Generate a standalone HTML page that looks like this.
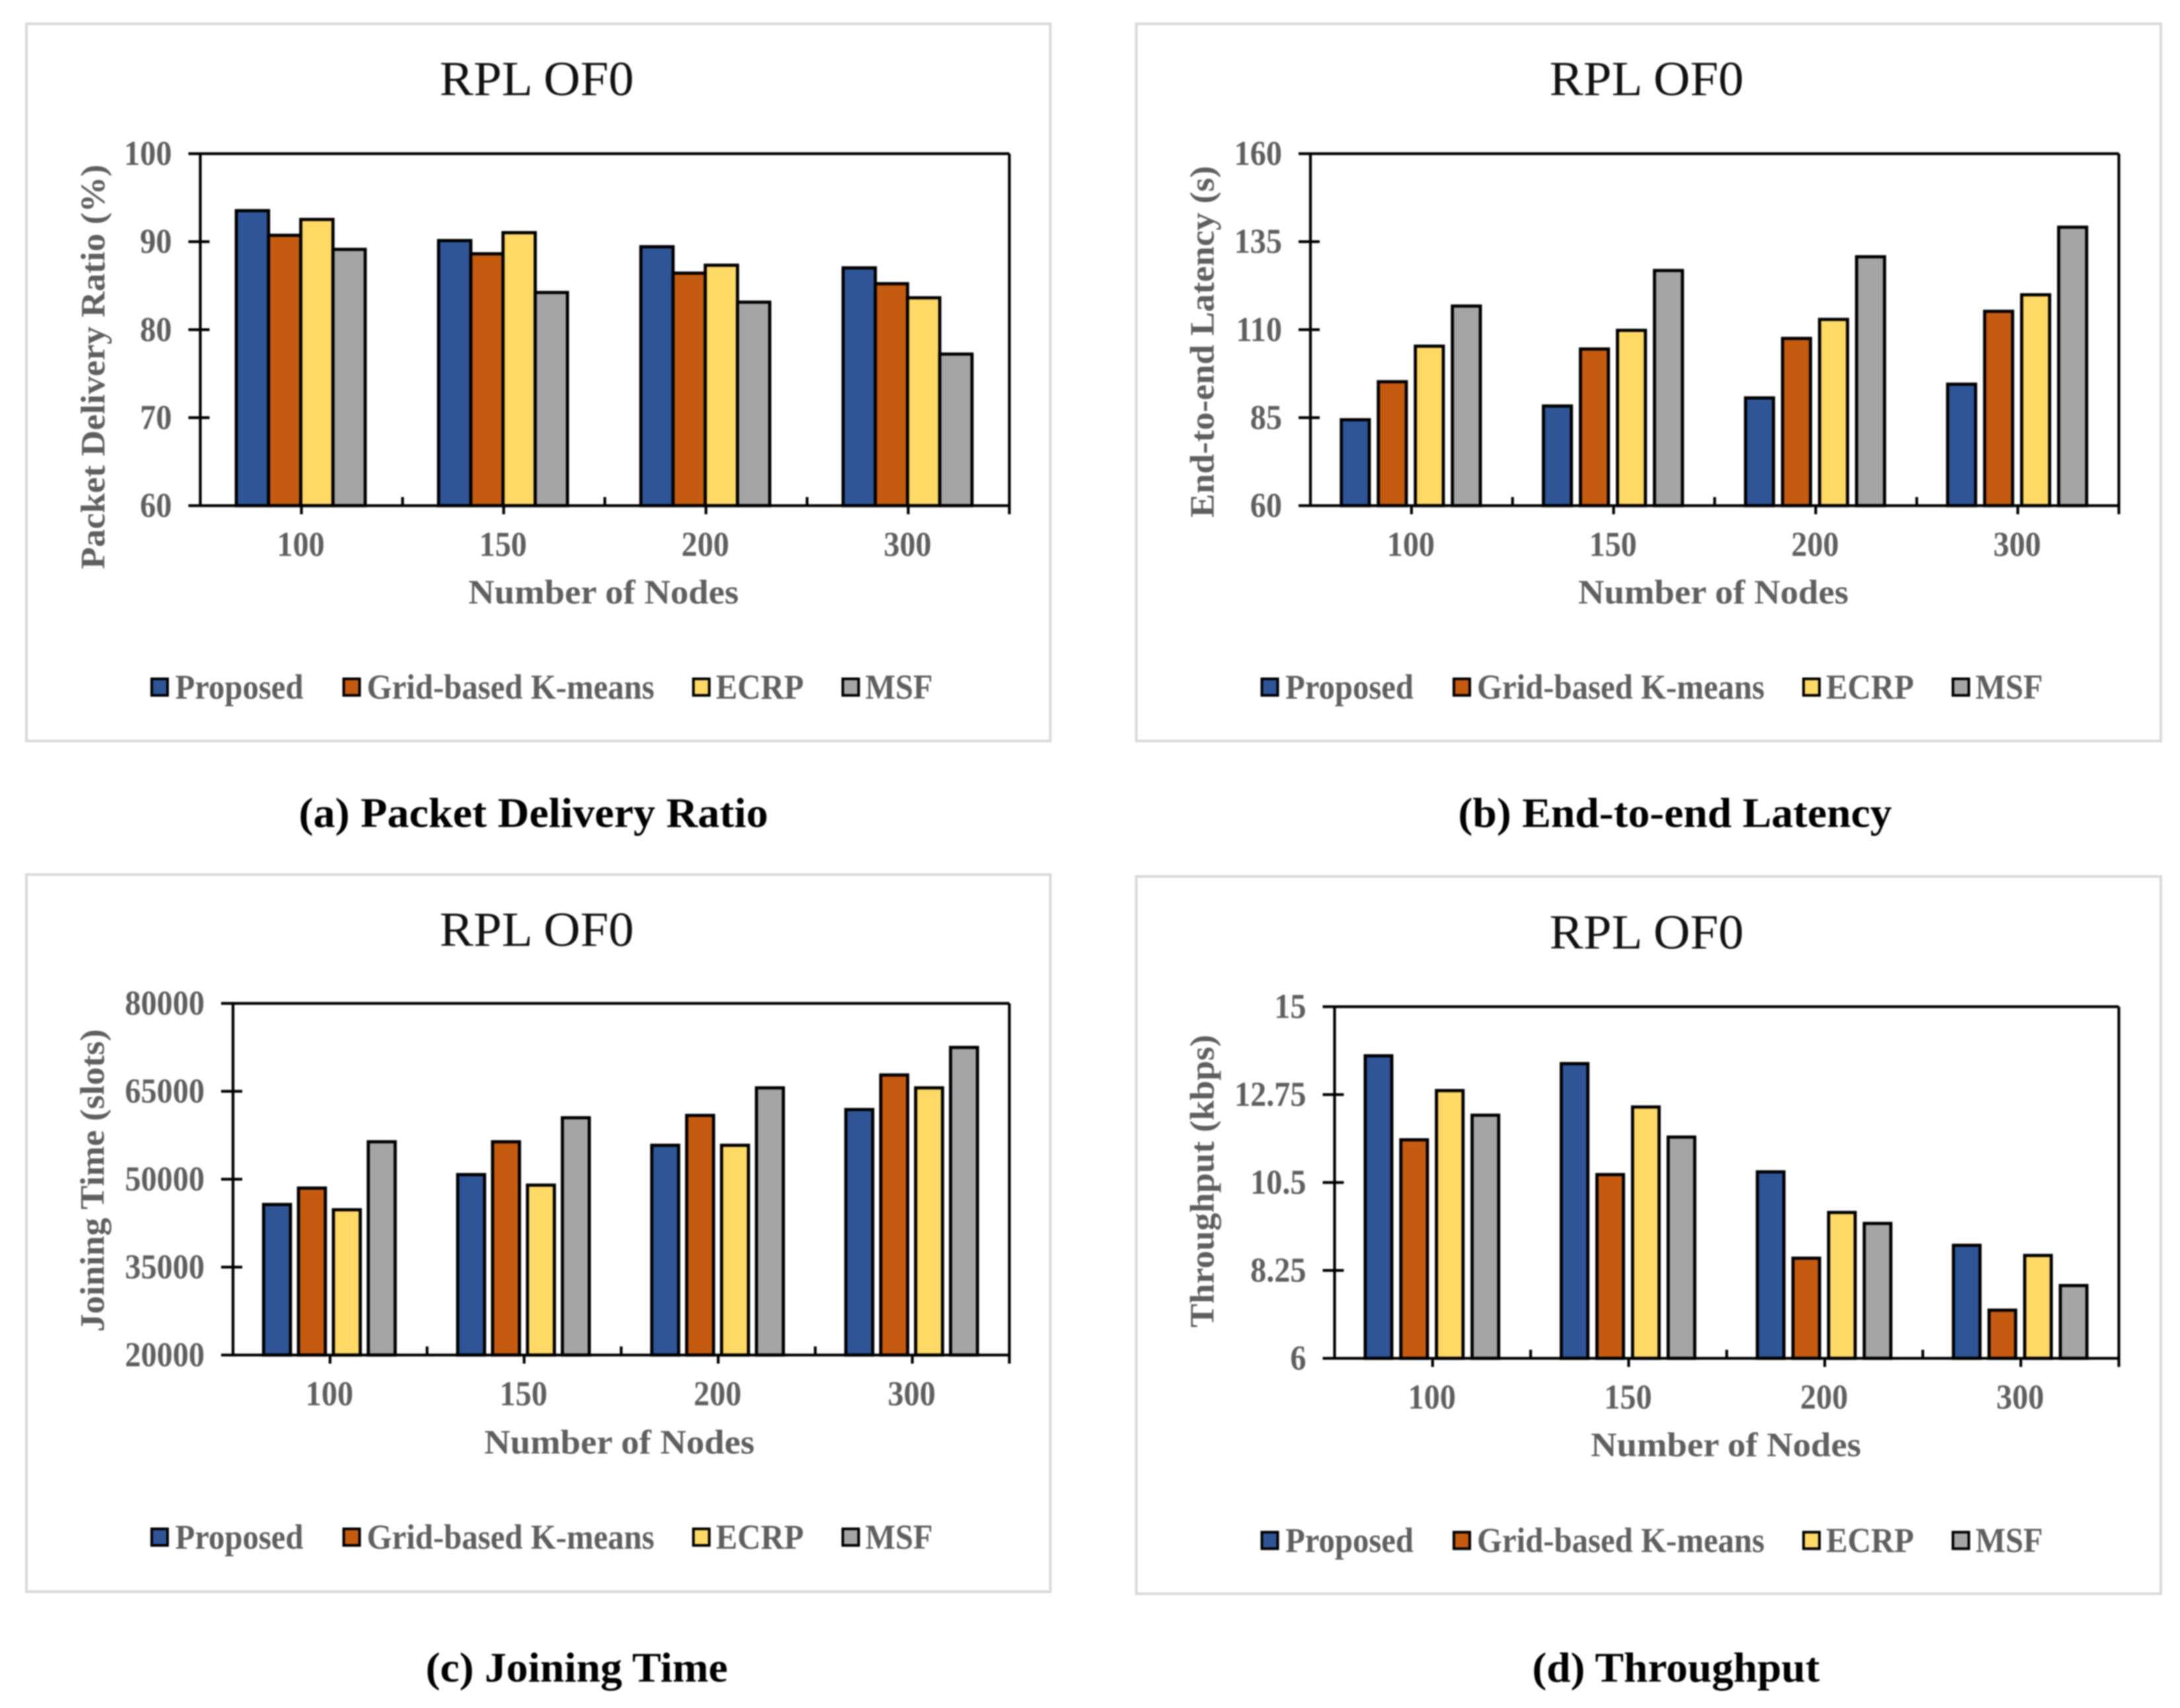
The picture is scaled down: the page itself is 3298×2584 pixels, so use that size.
<!DOCTYPE html>
<html lang="en">
<head>
<meta charset="utf-8">
<title>RPL OF0 comparison charts</title>
<style>
  html, body { margin: 0; padding: 0; background: #fff; }
  svg { display: block; filter: blur(1.1px); }
  text { font-family: "Liberation Serif", serif; }
  .title { font-size: 74px; fill: #111; }
  .axis-title { font-size: 52px; font-weight: bold; fill: #5f5f5f; }
  .tick { font-size: 53px; font-weight: bold; fill: #5f5f5f; }
  .legend-text { font-size: 53px; font-weight: bold; fill: #5f5f5f; }
  .caption { font-size: 64px; font-weight: bold; fill: #000; }
  .frame { fill: #fff; stroke: #d9d9d9; stroke-width: 4; }
  .sw { stroke: #000; stroke-width: 4; }
</style>
</head>
<body>
<svg id="figure" xmlns="http://www.w3.org/2000/svg" width="3298" height="2584" viewBox="0 0 3298 2584">
  <rect x="0" y="0" width="3298" height="2584" fill="#fff"/>

  <!-- chart (a) -->
  <g id="panel-a">
    <rect class="frame" x="40" y="36" width="1549" height="1085"/>
    <text class="title" x="812" y="144" text-anchor="middle" textLength="294" lengthAdjust="spacingAndGlyphs">RPL OF0</text>
    <text class="axis-title" transform="translate(158,555) rotate(-90)" text-anchor="middle" textLength="612" lengthAdjust="spacingAndGlyphs">Packet Delivery Ratio (%)</text>
    <text class="axis-title" x="913" y="913" text-anchor="middle" textLength="409" lengthAdjust="spacingAndGlyphs">Number of Nodes</text>
    <g>
      <rect class="sw" x="229.5" y="1027" width="24" height="25" fill="#2F5597"/>
      <text class="legend-text" x="265" y="1057" textLength="194" lengthAdjust="spacingAndGlyphs">Proposed</text>
      <rect class="sw" x="520" y="1027" width="24" height="25" fill="#C55A11"/>
      <text class="legend-text" x="555" y="1057" textLength="435" lengthAdjust="spacingAndGlyphs">Grid-based K-means</text>
      <rect class="sw" x="1049" y="1027" width="24" height="25" fill="#FFD966"/>
      <text class="legend-text" x="1083" y="1057" textLength="133" lengthAdjust="spacingAndGlyphs">ECRP</text>
      <rect class="sw" x="1275" y="1027" width="24" height="25" fill="#A5A5A5"/>
      <text class="legend-text" x="1309" y="1057" textLength="102" lengthAdjust="spacingAndGlyphs">MSF</text>
    </g>
    <text class="caption" x="452" y="1251" textLength="710" lengthAdjust="spacingAndGlyphs">(a) Packet Delivery Ratio</text>
  </g>

  <!-- chart (b) -->
  <g id="panel-b">
    <rect class="frame" x="1719" y="36" width="1550" height="1085"/>
    <text class="title" x="2491" y="144" text-anchor="middle" textLength="294" lengthAdjust="spacingAndGlyphs">RPL OF0</text>
    <text class="axis-title" transform="translate(1836,517) rotate(-90)" text-anchor="middle" textLength="532" lengthAdjust="spacingAndGlyphs">End-to-end Latency (s)</text>
    <text class="axis-title" x="2592" y="913" text-anchor="middle" textLength="409" lengthAdjust="spacingAndGlyphs">Number of Nodes</text>
    <g transform="translate(1679.5,0)">
      <rect class="sw" x="229.5" y="1027" width="24" height="25" fill="#2F5597"/>
      <text class="legend-text" x="265" y="1057" textLength="194" lengthAdjust="spacingAndGlyphs">Proposed</text>
      <rect class="sw" x="520" y="1027" width="24" height="25" fill="#C55A11"/>
      <text class="legend-text" x="555" y="1057" textLength="435" lengthAdjust="spacingAndGlyphs">Grid-based K-means</text>
      <rect class="sw" x="1049" y="1027" width="24" height="25" fill="#FFD966"/>
      <text class="legend-text" x="1083" y="1057" textLength="133" lengthAdjust="spacingAndGlyphs">ECRP</text>
      <rect class="sw" x="1275" y="1027" width="24" height="25" fill="#A5A5A5"/>
      <text class="legend-text" x="1309" y="1057" textLength="102" lengthAdjust="spacingAndGlyphs">MSF</text>
    </g>
    <text class="caption" x="2206" y="1251" textLength="656" lengthAdjust="spacingAndGlyphs">(b) End-to-end Latency</text>
  </g>

  <!-- chart (c) -->
  <g id="panel-c">
    <rect class="frame" x="40" y="1323" width="1549" height="1085"/>
    <text class="title" x="812" y="1431" text-anchor="middle" textLength="294" lengthAdjust="spacingAndGlyphs">RPL OF0</text>
    <text class="axis-title" transform="translate(157,1786) rotate(-90)" text-anchor="middle" textLength="458" lengthAdjust="spacingAndGlyphs">Joining Time (slots)</text>
    <text class="axis-title" x="937" y="2199" text-anchor="middle" textLength="409" lengthAdjust="spacingAndGlyphs">Number of Nodes</text>
    <g transform="translate(0,1286)">
      <rect class="sw" x="229.5" y="1027" width="24" height="25" fill="#2F5597"/>
      <text class="legend-text" x="265" y="1057" textLength="194" lengthAdjust="spacingAndGlyphs">Proposed</text>
      <rect class="sw" x="520" y="1027" width="24" height="25" fill="#C55A11"/>
      <text class="legend-text" x="555" y="1057" textLength="435" lengthAdjust="spacingAndGlyphs">Grid-based K-means</text>
      <rect class="sw" x="1049" y="1027" width="24" height="25" fill="#FFD966"/>
      <text class="legend-text" x="1083" y="1057" textLength="133" lengthAdjust="spacingAndGlyphs">ECRP</text>
      <rect class="sw" x="1275" y="1027" width="24" height="25" fill="#A5A5A5"/>
      <text class="legend-text" x="1309" y="1057" textLength="102" lengthAdjust="spacingAndGlyphs">MSF</text>
    </g>
    <text class="caption" x="644" y="2544" textLength="457" lengthAdjust="spacingAndGlyphs">(c) Joining Time</text>
  </g>

  <!-- chart (d) -->
  <g id="panel-d">
    <rect class="frame" x="1719" y="1326" width="1550" height="1085"/>
    <text class="title" x="2491" y="1435" text-anchor="middle" textLength="294" lengthAdjust="spacingAndGlyphs">RPL OF0</text>
    <text class="axis-title" transform="translate(1836,1787) rotate(-90)" text-anchor="middle" textLength="443" lengthAdjust="spacingAndGlyphs">Throughput (kbps)</text>
    <text class="axis-title" x="2611" y="2203" text-anchor="middle" textLength="409" lengthAdjust="spacingAndGlyphs">Number of Nodes</text>
    <g transform="translate(1679.5,1291)">
      <rect class="sw" x="229.5" y="1027" width="24" height="25" fill="#2F5597"/>
      <text class="legend-text" x="265" y="1057" textLength="194" lengthAdjust="spacingAndGlyphs">Proposed</text>
      <rect class="sw" x="520" y="1027" width="24" height="25" fill="#C55A11"/>
      <text class="legend-text" x="555" y="1057" textLength="435" lengthAdjust="spacingAndGlyphs">Grid-based K-means</text>
      <rect class="sw" x="1049" y="1027" width="24" height="25" fill="#FFD966"/>
      <text class="legend-text" x="1083" y="1057" textLength="133" lengthAdjust="spacingAndGlyphs">ECRP</text>
      <rect class="sw" x="1275" y="1027" width="24" height="25" fill="#A5A5A5"/>
      <text class="legend-text" x="1309" y="1057" textLength="102" lengthAdjust="spacingAndGlyphs">MSF</text>
    </g>
    <text class="caption" x="2318" y="2544" textLength="435" lengthAdjust="spacingAndGlyphs">(d) Throughput</text>
  </g>
</svg>

<script>
// Shared categories
const categories = ["100", "150", "200", "300"];
const seriesColors = ["#2F5597", "#C55A11", "#FFD966", "#A5A5A5"];
const seriesNames = ["proposed", "grid-based-k-means", "ecrp", "msf"];

// (a) Packet Delivery Ratio
const pdrProposed = [93.6, 90.2, 89.5, 87.1];
const pdrGrid = [90.8, 88.7, 86.5, 85.3];
const pdrEcrp = [92.6, 91.1, 87.4, 83.7];
const pdrMsf = [89.2, 84.3, 83.2, 77.3];
const pdrTicks = ["60", "70", "80", "90", "100"];

// (b) End-to-end Latency
const latProposed = [84.6, 88.5, 90.8, 94.7];
const latGrid = [95.4, 104.7, 107.7, 115.4];
const latEcrp = [105.5, 110, 113.1, 120.1];
const latMsf = [116.9, 127, 130.9, 139.3];
const latTicks = ["60", "85", "110", "135", "160"];

// (c) Joining Time
const joinProposed = [45800, 50900, 55900, 62000];
const joinGrid = [48600, 56500, 61000, 67900];
const joinEcrp = [44900, 49100, 55900, 65700];
const joinMsf = [56500, 60600, 65700, 72600];
const joinTicks = ["20000", "35000", "50000", "65000", "80000"];

// (d) Throughput
const thrProposed = [13.76, 13.56, 10.79, 8.91];
const thrGrid = [11.61, 10.72, 8.58, 7.25];
const thrEcrp = [12.87, 12.45, 9.75, 8.65];
const thrMsf = [12.24, 11.68, 9.47, 7.88];
const thrTicks = ["6", "8.25", "10.5", "12.75", "15"];

const SVG_NS = "http://www.w3.org/2000/svg";

function drawChart(panelId, series, ticks, box) {
  const panel = document.getElementById(panelId);
  const group = document.createElementNS(SVG_NS, "g");
  
  
  panel.appendChild(group);

  const tickMin = parseFloat(ticks[0]);
  const tickMax = parseFloat(ticks[ticks.length - 1]);
  const yScale = function (v) {
    return box.bottom - (v - tickMin) / (tickMax - tickMin) * (box.bottom - box.top);
  };
  const band = (box.right - box.left) / categories.length;
  const xCenter = function (i) { return box.left + band * (i + 0.5); };
  const xBar = function (i, j) { return xCenter(i) + box.step * (j - (series.length - 1) / 2) - box.barW / 2 - 1; };

  function line(x1, y1, x2, y2, w, name) {
    const el = document.createElementNS(SVG_NS, "line");
    el.setAttribute("x1", x1);
    el.setAttribute("y1", y1);
    el.setAttribute("x2", x2);
    el.setAttribute("y2", y2);
    el.setAttribute("stroke", "#000");
    el.setAttribute("stroke-width", w);
    
    
    group.appendChild(el);
  }
  function label(str, x, y, anchor, name) {
    const el = document.createElementNS(SVG_NS, "text");
    el.setAttribute("class", "tick");
    el.setAttribute("text-anchor", anchor);
    el.setAttribute("transform", "translate(" + x + "," + y + ") scale(0.91,1)");
    el.textContent = str;
    
    
    group.appendChild(el);
  }

  // bars
  series.forEach(function (values, j) {
    values.forEach(function (v, i) {
      const r = document.createElementNS(SVG_NS, "rect");
      const top = yScale(v) + 1;
      r.setAttribute("x", xBar(i, j));
      r.setAttribute("y", top);
      r.setAttribute("width", box.barW);
      r.setAttribute("height", box.bottom - top);
      r.setAttribute("fill", seriesColors[j]);
      r.setAttribute("stroke", "#000");
      r.setAttribute("stroke-width", 4.8);
      
      
      group.appendChild(r);
    });
  });

  // plot border
  line(box.left - 18, box.top, box.right, box.top, 4.2, 'plot-top-border');
  line(box.right, box.top, box.right, box.bottom, 4.2, 'plot-right-border');
  line(box.left, box.top, box.left, box.bottom, 4.2, 'y-axis-line');
  line(box.left - 18, box.bottom, box.right, box.bottom, 4.2, 'x-axis-line');

  // y ticks and labels
  ticks.forEach(function (t) {
    const y = yScale(parseFloat(t));
    if (y > box.top + 1 && y < box.bottom - 1) {
      line(box.left - 18, y, box.left + 14, y, 4.2, 'y-tick-' + t);
    }
    label(t, box.left - 43, y + 17, "end", 'y-tick-label-' + t);
  });

  // x ticks and labels
  categories.forEach(function (c, i) {
    const xc = xCenter(i);
    line(xc, box.bottom, xc, box.bottom + 13, 4.2, 'x-tick-' + c);
    if (i > 0) {
      line(box.left + band * i, box.bottom, box.left + band * i, box.bottom - 13, 4.2, 'x-boundary-tick-' + i);
    }
    label(c, xc - 1, box.bottom + 76, "middle", 'x-tick-label-' + c);
  });
  line(box.right, box.bottom, box.right, box.bottom + 13, 4.2, 'x-end-tick');
}

drawChart("panel-a", [pdrProposed, pdrGrid, pdrEcrp, pdrMsf], pdrTicks,
  { left: 303, right: 1527, top: 232.5, bottom: 765, barW: 48.75, step: 48.75 });
drawChart("panel-b", [latProposed, latGrid, latEcrp, latMsf], latTicks,
  { left: 1982.5, right: 3205.5, top: 232.5, bottom: 765, barW: 42.3, step: 56 });
drawChart("panel-c", [joinProposed, joinGrid, joinEcrp, joinMsf], joinTicks,
  { left: 352.5, right: 1527, top: 1518, bottom: 2050, barW: 40.7, step: 52.8 });
drawChart("panel-d", [thrProposed, thrGrid, thrEcrp, thrMsf], thrTicks,
  { left: 2019, right: 3205.5, top: 1523, bottom: 2055, barW: 40.2, step: 53.9 });
</script>
</body>
</html>
